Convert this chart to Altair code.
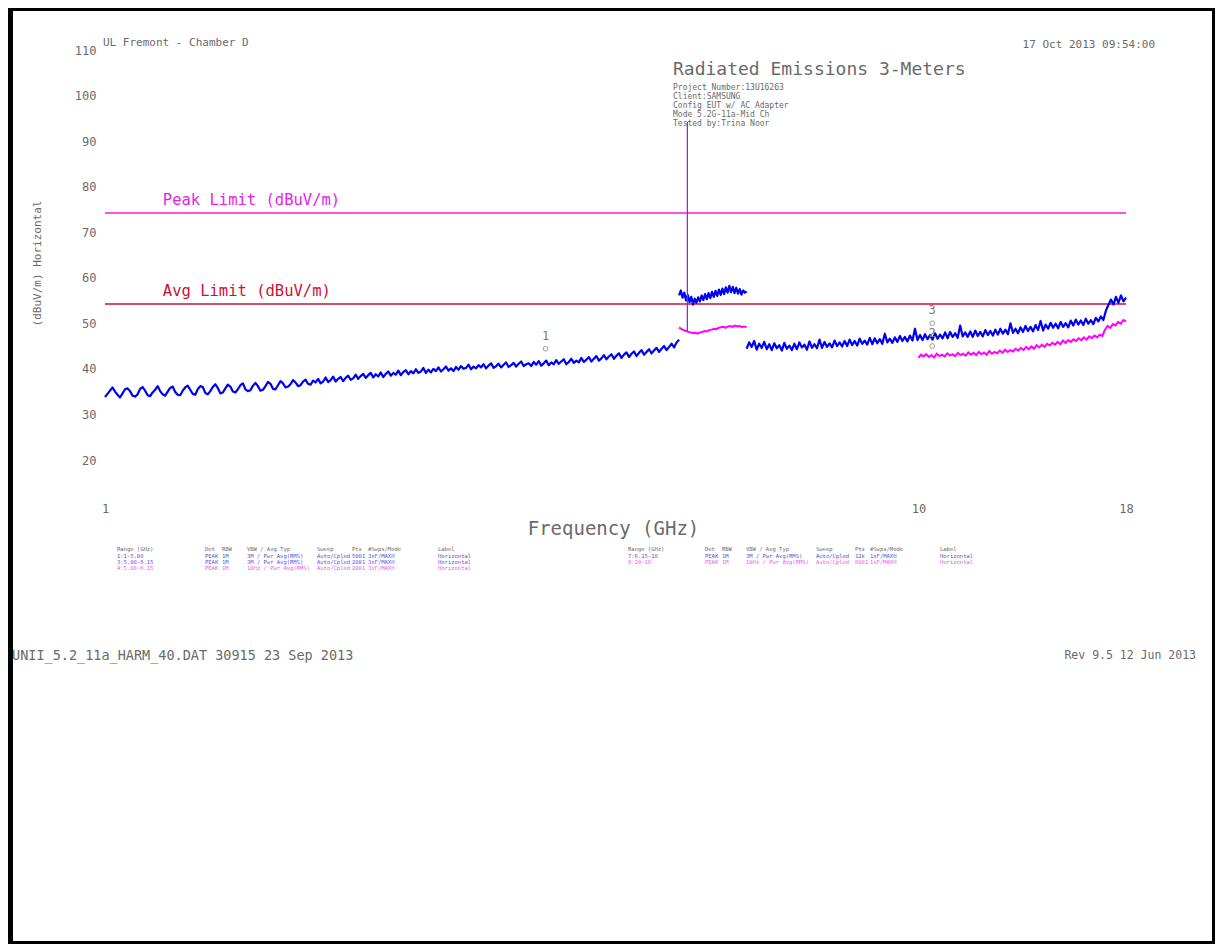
import altair as alt
import pandas as pd
import numpy as np

# ---------------- data ----------------
# sweep ranges (GHz)
seg1_range = [1.0, 5.08]
seg2_range = [5.08, 6.15]
seg3_range = [6.15, 18.0]
seg4_range = [10.0, 18.0]

# peak trace (blue), 1 - 5.08 GHz
seg1_peak = [
    33.6, 34.3, 35.0, 35.7, 34.8, 34.1, 33.5, 34.4, 35.3, 35.5,
    34.9, 33.9, 33.7, 34.2, 35.4, 35.8, 35.0, 34.0, 33.8, 34.6,
    35.2, 36.0, 34.9, 34.2, 33.9, 34.8, 35.6, 35.9, 34.7, 34.1,
    34.0, 35.0, 35.7, 36.1, 35.2, 34.3, 34.1, 35.3, 36.0, 35.8,
    34.5, 34.2, 34.9, 35.8, 36.4, 35.6, 34.4, 34.6, 35.5, 36.3,
    35.9, 34.8, 34.6, 35.3, 36.2, 36.6, 35.3, 34.9, 35.1, 36.1,
    36.7, 36.0, 35.0, 35.2, 36.0, 36.9, 36.5, 35.4, 35.3, 36.2,
    37.1, 36.6, 35.7, 35.9, 36.4, 37.3, 36.8, 36.0, 36.2, 37.0,
    37.4, 36.5, 36.3, 37.2, 36.8, 37.6, 36.6, 37.0, 37.9, 36.9,
    37.3, 38.1, 37.0, 37.6, 38.0, 37.1, 37.8, 38.3, 37.4, 37.7,
    38.5, 37.6, 38.2, 38.7, 37.8, 38.4, 38.9, 37.9, 38.6, 38.1,
    39.0, 38.0, 38.7, 39.2, 38.3, 38.9, 38.5, 39.4, 38.4, 39.1,
    39.5, 38.6, 39.3, 38.8, 39.7, 38.9, 39.2, 40.0, 38.9, 39.6,
    39.0, 39.8, 39.3, 40.1, 39.2, 39.7, 40.3, 39.4, 39.9, 39.3,
    40.2, 39.6, 40.4, 39.8, 40.0, 40.7, 39.7, 40.3, 39.9, 40.6,
    40.1, 40.8, 39.9, 40.5, 41.0, 40.0, 40.4, 40.9, 40.1, 40.7,
    41.2, 40.2, 40.6, 41.1, 40.3, 40.9, 41.4, 40.4, 40.8, 41.0,
    40.4, 41.3, 40.7, 41.5, 40.5, 41.0, 41.6, 40.6, 41.2, 40.8,
    41.7, 40.9, 41.4, 41.9, 40.8, 41.3, 42.0, 41.1, 41.6, 41.2,
    42.2, 41.3, 41.8, 42.4, 41.4, 42.0, 42.6, 41.6, 42.1, 42.8,
    41.9, 42.5, 43.0, 42.0, 42.7, 43.2, 42.2, 42.9, 43.4, 42.4,
    43.1, 43.6, 42.6, 43.3, 43.9, 42.9, 43.5, 44.1, 43.2, 43.8,
    44.4, 43.5, 44.2, 44.8, 43.9, 44.6, 45.3, 44.5, 45.6, 46.2,
]
# peak trace (blue), 5.08 - 6.15 GHz
seg2_peak = [
    55.9, 57.0, 55.4, 56.5, 54.8, 56.0, 54.4, 55.6, 53.9, 55.2,
    54.3, 55.5, 54.6, 55.9, 54.9, 56.2, 55.1, 56.4, 55.3, 56.7,
    55.6, 56.9, 55.8, 57.2, 56.0, 57.4, 56.2, 57.7, 56.5, 58.0,
    56.6, 57.8, 56.4, 57.6, 56.3, 57.3, 56.1, 57.0, 56.5, 56.8,
]
# average trace (magenta), 5.08 - 6.15 GHz
seg2_avg = [
    48.9, 48.5, 48.3, 48.1, 47.9, 47.8, 47.6, 47.7, 47.5, 47.8, 47.9, 48.1, 48.0, 48.3, 48.4,
    48.6, 48.5, 48.8, 48.9, 49.0, 48.8, 49.1, 49.2, 49.0, 49.3, 49.1, 49.2, 49.0, 49.1, 48.9,
]
# peak trace (blue), 6.15 - 18 GHz
seg3_peak = [
    44.2, 45.6, 44.6, 45.9, 44.0, 45.3, 44.4, 45.7, 44.1, 45.2,
    43.9, 45.4, 44.3, 45.0, 43.8, 45.5, 44.2, 44.9, 43.9, 45.3,
    44.1, 45.6, 44.5, 45.1, 44.0, 45.8, 44.4, 45.2, 44.3, 46.2,
    44.4, 45.7, 44.6, 45.4, 44.5, 46.0, 44.8, 45.6, 44.7, 45.9,
    44.8, 46.2, 45.0, 45.9, 44.9, 46.4, 45.3, 46.0, 45.1, 46.6,
    45.2, 46.5, 45.4, 46.3, 45.3, 47.5, 45.6, 46.4, 45.5, 46.7,
    45.7, 47.0, 45.9, 46.8, 45.8, 47.1, 46.0, 48.6, 46.1, 47.2,
    46.1, 47.4, 46.3, 47.2, 46.2, 47.6, 46.4, 47.3, 46.5, 47.8,
    46.5, 47.9, 46.8, 47.6, 46.6, 49.3, 46.9, 47.8, 46.8, 48.0,
    46.8, 48.2, 47.0, 47.9, 46.9, 48.3, 47.2, 48.1, 47.1, 48.4,
    47.3, 48.6, 47.5, 48.4, 47.4, 49.8, 47.7, 48.6, 47.6, 48.9,
    47.9, 49.2, 48.1, 49.0, 48.0, 49.4, 48.3, 50.3, 48.2, 49.5,
    48.6, 49.9, 48.8, 49.7, 48.7, 50.1, 49.0, 49.8, 48.9, 50.4,
    49.3, 50.6, 49.5, 50.4, 49.4, 50.8, 49.7, 50.5, 49.6, 51.0,
    50.2, 51.3, 50.5, 52.6, 53.8, 55.0, 53.9, 55.6, 54.3, 55.9, 54.6, 55.4,
]
# average trace (magenta), 10 - 18 GHz
seg4_avg = [
    42.2, 42.9, 42.5, 43.0, 42.4, 42.8, 42.3, 43.1, 42.6, 42.9,
    42.5, 43.2, 42.7, 43.0, 42.6, 43.3, 42.8, 43.1, 42.7, 43.4,
    42.9, 43.3, 42.8, 43.5, 43.0, 43.4, 42.9, 43.7, 43.1, 43.5,
    43.2, 43.8, 43.3, 44.0, 43.5, 43.9, 43.6, 44.2, 43.8, 44.4,
    43.9, 44.6, 44.1, 44.7, 44.2, 45.0, 44.5, 45.1, 44.6, 45.3,
    44.9, 45.5, 45.1, 45.7, 45.2, 46.0, 45.5, 46.1, 45.7, 46.3,
    45.9, 46.5, 46.1, 46.7, 46.2, 46.9, 46.5, 47.1, 46.7, 47.3,
    47.0, 48.4, 49.2, 48.8, 49.6, 49.3, 50.1, 49.7, 50.5, 50.2,
]

# fundamental spike
spike_freq = [5.2]
spike_top = [94.0]
spike_base = [48.0]

# limits
limit_names = ["Peak Limit (dBuV/m)", "Avg Limit (dBuV/m)"]
limit_values = [74, 54]
limit_colors = ["#e81ee8", "#cc1038"]

# markers
marker_ids = ["1", "3", "2"]
marker_freqs = [3.48, 10.4, 10.4]
marker_vals = [44.2, 49.8, 44.8]

# y ticks / x ticks
y_ticks = [20, 30, 40, 50, 60, 70, 80, 90, 100, 110]
x_ticks = [1, 10, 18]

# header / footer texts
site_text = "UL Fremont - Chamber D"
date_text = "17 Oct 2013   09:54:00"
main_title = "Radiated Emissions 3-Meters"
info_lines = ["Project Number:13U16263", "Client:SAMSUNG", "Config EUT w/ AC Adapter",
              "Mode 5.2G-11a-Mid Ch", "Tested by:Trina Noor"]
footer_left = "UNII_5.2_11a_HARM_40.DAT 30915 23 Sep 2013"
footer_right = "Rev 9.5 12 Jun 2013"

# sweep-settings table
table_header = ["Range (GHz)", "Det", "RBW", "VBW / Avg Typ", "Sweep", "Pts", "#Swps/Mode", "Label"]
left_rows = [
    ["1:1-5.08", "PEAK", "1M", "3M / Pwr Avg(RMS)", "Auto/Cpled", "5001", "3xF/MAXH", "Horizontal"],
    ["3:5.08-6.15", "PEAK", "1M", "3M / Pwr Avg(RMS)", "Auto/Cpled", "2001", "3xF/MAXH", "Horizontal"],
    ["4:5.08-6.15", "PEAK", "1M", "10Hz / Pwr Avg(RMS)", "Auto/Cpled", "2001", "3xF/MAXH", "Horizontal"],
]
right_rows = [
    ["7:6.15-18", "PEAK", "1M", "3M / Pwr Avg(RMS)", "Auto/Cpled", "12k", "1xF/MAXH", "Horizontal"],
    ["8:10-18", "PEAK", "1M", "10Hz / Pwr Avg(RMS)", "Auto/Cpled", "8001", "1xF/MAXH", "Horizontal"],
]
left_row_colors = ["#5050e0", "#6a4ee0", "#ee55ee"]
right_row_colors = ["#5050e0", "#ee55ee"]

# ---------------- layout constants ----------------
W, H = 1021, 410
PAD = {"left": 97, "top": 41, "right": 89, "bottom": 485}
FONT = "DejaVu Sans Mono"
GRAY = "#6a6a6a"
left_cols_x = [12, 100, 117, 142, 212, 247, 263, 333]
right_cols_x = [523, 600, 617, 641, 711, 750, 765, 835]
table_y = [500, 507, 513, 519]

# ---------------- build tables ----------------
def seg_df(rng, vals, name):
    f = np.geomspace(rng[0], rng[1], len(vals))
    return pd.DataFrame({"freq": f, "val": vals, "seg": name})

peak_df = pd.concat([seg_df(seg1_range, seg1_peak, "p1"),
                     seg_df(seg2_range, seg2_peak, "p2"),
                     seg_df(seg3_range, seg3_peak, "p3")])
avg_df = pd.concat([seg_df(seg2_range, seg2_avg, "a2"),
                    seg_df(seg4_range, seg4_avg, "a4")])
spike_df = pd.DataFrame({"freq": spike_freq, "top": spike_top, "base": spike_base})
limit_df = pd.DataFrame({"name": limit_names, "val": limit_values, "col": limit_colors,
                         "freq": [1.178, 1.178]})
marker_df = pd.DataFrame({"id": marker_ids, "freq": marker_freqs, "val": marker_vals})

rows = []
for j, h in enumerate(table_header):
    rows.append({"t": h, "px": left_cols_x[j], "py": table_y[0], "c": GRAY})
    rows.append({"t": h, "px": right_cols_x[j], "py": table_y[0], "c": GRAY})
for i, r in enumerate(left_rows):
    for j, t in enumerate(r):
        rows.append({"t": t, "px": left_cols_x[j], "py": table_y[i + 1], "c": left_row_colors[i]})
for i, r in enumerate(right_rows):
    for j, t in enumerate(r):
        rows.append({"t": t, "px": right_cols_x[j], "py": table_y[i + 1], "c": right_row_colors[i]})
table_df = pd.DataFrame(rows)

# ---------------- chart ----------------
xscale = alt.Scale(type="log", domain=[1, 18], nice=False)
yscale = alt.Scale(domain=[20, 110], nice=False, zero=False)

xaxis = alt.Axis(values=x_ticks, format="~g", ticks=False, domain=False, grid=False,
                 labelFlush=False, labelOverlap=False, labelPadding=44,
                 labelFont=FONT, labelFontSize=12, labelColor=GRAY,
                 title="Frequency (GHz)", titleFont=FONT, titleFontSize=19,
                 titleFontWeight="normal", titleColor=GRAY, titleX=508, titleY=69,
                 titleAlign="center", titleBaseline="middle")
yaxis = alt.Axis(values=y_ticks, ticks=False, domain=False, grid=False,
                 labelPadding=9, labelFont=FONT, labelFontSize=12, labelColor=GRAY,
                 labelOffset=1,
                 title="(dBuV/m) Horizontal", titleFont=FONT, titleFontSize=11,
                 titleFontWeight="normal", titleColor=GRAY, titleX=-68, titleY=214,
                 titleAngle=270, titleAlign="center", titleBaseline="middle")

one = pd.DataFrame({"a": [0]})

limits = alt.Chart(limit_df).mark_rule(strokeWidth=1.5).encode(
    y=alt.Y("val:Q", scale=yscale, axis=yaxis),
    x=alt.value(0), x2=alt.value(W),
    color=alt.Color("col:N", scale=None, legend=None),
)
limit_text = alt.Chart(limit_df).mark_text(align="left", baseline="middle", dy=-13,
                                           font=FONT, fontSize=15.5).encode(
    x=alt.X("freq:Q", scale=xscale, axis=xaxis),
    y=alt.Y("val:Q", scale=yscale),
    text="name:N",
    color=alt.Color("col:N", scale=None, legend=None),
)
avg_line = alt.Chart(avg_df).mark_line(color="#ff00ff", strokeWidth=2.0).encode(
    x=alt.X("freq:Q", scale=xscale), y=alt.Y("val:Q", scale=yscale), detail="seg:N",
)
peak_line = alt.Chart(peak_df).mark_line(color="#0000f0", strokeWidth=2.2,
                                         strokeJoin="round").encode(
    x=alt.X("freq:Q", scale=xscale), y=alt.Y("val:Q", scale=yscale), detail="seg:N",
)
spike = alt.Chart(spike_df).mark_rule(color="#8a2be2", strokeWidth=1.3).encode(
    x=alt.X("freq:Q", scale=xscale), y=alt.Y("top:Q", scale=yscale), y2="base:Q",
)
marker_pts = alt.Chart(marker_df).mark_point(shape="circle", size=22, color="#777",
                                             filled=False, strokeWidth=1).encode(
    x=alt.X("freq:Q", scale=xscale), y=alt.Y("val:Q", scale=yscale),
)
marker_lbl = alt.Chart(marker_df).mark_text(dy=-13, font=FONT, fontSize=12, color="#777").encode(
    x=alt.X("freq:Q", scale=xscale), y=alt.Y("val:Q", scale=yscale), text="id:N",
)

def label(txt, x, y, size, align="left", color=GRAY):
    return alt.Chart(one).mark_text(text=txt, align=align, baseline="middle", font=FONT,
                                    fontSize=size, color=color).encode(
        x=alt.value(x), y=alt.value(y))

texts = [
    label(site_text, -2, -6, 11),
    label(date_text, 1050, -4, 11, align="right"),
    label(main_title, 568, 21, 18),
    label(footer_left, -93, 607, 13.5),
    label(footer_right, 1091, 607, 11.5, align="right"),
]
for k, line in enumerate(info_lines):
    texts.append(label(line, 568, 39 + 9 * k, 8))

table = alt.Chart(table_df).mark_text(align="left", baseline="middle", font=FONT,
                                      fontSize=5.5).encode(
    x=alt.X("px:Q", scale=None, axis=None),
    y=alt.Y("py:Q", scale=None, axis=None),
    text="t:N",
    color=alt.Color("c:N", scale=None, legend=None),
)

def frame(x1, x2, y1, y2):
    return alt.Chart(one).mark_rect(color="black").encode(
        x=alt.value(x1), x2=alt.value(x2), y=alt.value(y1), y2=alt.value(y2))

frames = [
    frame(-97, -92, -41, H + 485),
    frame(-97, W + 89, -41, -38),
    frame(W + 86, W + 89, -41, H + 485),
    frame(-97, W + 89, H + 482, H + 485),
]

chart = alt.layer(
    limits, limit_text, avg_line, peak_line, spike, marker_pts, marker_lbl,
    table, *texts, *frames
).properties(
    width=W, height=H,
    padding=PAD,
    autosize=alt.AutoSizeParams(type="none"),
    background="white",
).configure_view(stroke=None)

chart.save("out.html", embed_options={"renderer": "svg", "actions": False})
